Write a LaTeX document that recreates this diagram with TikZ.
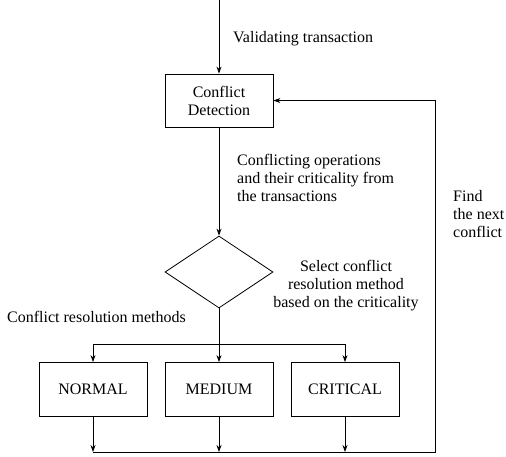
\documentclass[tikz,border=0pt]{standalone}
\usepackage{fontspec}
\setmainfont{Liberation Serif}
\usetikzlibrary{shapes.geometric,arrows.meta}
\begin{document}
\begin{tikzpicture}[x=1pt,y=-1pt,
  every node/.style={font=\fontsize{16}{18}\selectfont},
  line/.style={line width=0.8pt},
  arr/.style={line width=0.8pt,-{Stealth[length=7pt,width=5pt]}},
  box/.style={draw,line width=0.8pt,minimum width=108pt,minimum height=54pt,inner sep=0pt,align=center},
  dia/.style={draw,line width=0.8pt,diamond,minimum width=108pt,minimum height=72pt,inner sep=0pt},
  lab/.style={inner sep=0pt,align=left,anchor=west}]
\useasboundingbox (0,0) rectangle (506,456);
\coordinate (top) at (219,0);
\node[box,minimum height=53pt] (cd) at (219,100.5) {Conflict\\Detection};
\node[dia] (d) at (219,272) {};
\coordinate (j) at (219,344);
\node[box] (n) at (93,389.5) {NORMAL};
\node[box] (m) at (219,389.5) {MEDIUM};
\node[box] (c) at (345,389.5) {CRITICAL};
\coordinate (bl) at (93,452);
\coordinate (br) at (435,452);
\draw[arr] (top) -- (cd.north);
\draw[arr] (cd.south) -- (d.north);
\draw[line] (d.south) -- (j);
\draw[arr] (j) -| (n.north);
\draw[arr] (j) -| (c.north);
\draw[arr] (j) -- (m.north);
\draw[arr] (n.south) -- (n.south |- bl);
\draw[arr] (m.south) -- (m.south |- bl);
\draw[arr] (c.south) -- (c.south |- bl);
\draw[arr] (bl) -- (br) |- (cd.east);
\node[lab] (vt) at (233,39) {Validating transaction};
\node[lab] (co) at (237,178) {Conflicting operations\\and their criticality from\\the transactions};
\node[lab] (fn) at (453,214) {Find\\the next\\conflict};
\node[inner sep=0pt,align=center] (sel) at (346,286) {Select conflict\\resolution method\\based on the criticality};
\node[lab] (crm) at (7,317) {Conflict resolution methods};
\end{tikzpicture}
\end{document}
